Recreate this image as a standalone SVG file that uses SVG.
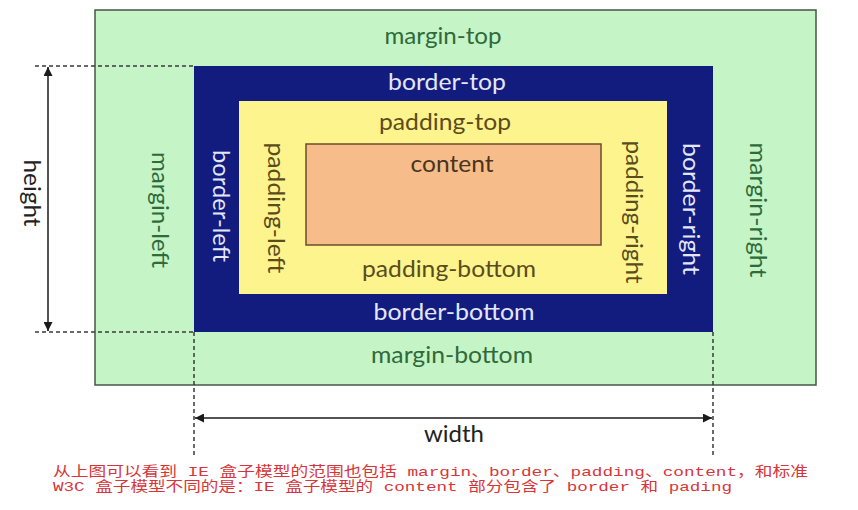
<svg xmlns="http://www.w3.org/2000/svg" width="858" height="510" viewBox="0 0 858 510">
<defs>
<marker id="arr" viewBox="0 0 10 10" refX="10" refY="5" markerWidth="9" markerHeight="9" markerUnits="userSpaceOnUse" orient="auto-start-reverse">
<path d="M0,0 L10,5 L0,10 z" fill="#1a1a1a"/>
</marker>
<style>
.lbl{font-family:Lato,"Open Sans","Liberation Sans",sans-serif;font-size:24px;text-anchor:middle}
.m{fill:#2f6a3a}
.b{fill:#e4e6fb}
.p{fill:#5b4c1c}
.c{fill:#4a3420}
.dash{stroke:#3a3a3a;stroke-width:1.5;stroke-dasharray:4 3;fill:none}
.dim{stroke:#1a1a1a;stroke-width:1.5;fill:none}
.note{font-family:"Liberation Mono","Noto Sans CJK SC",monospace;font-size:13.5px;fill:#d8353a}
</style>
</defs>
<rect width="858" height="510" fill="#ffffff"/>
<g id="margin">
<rect x="95" y="10" width="721" height="375" fill="#c5f4c6" stroke="#465646" stroke-width="1.5"/>
<text class="lbl m" x="443" y="44" textLength="117" lengthAdjust="spacingAndGlyphs">margin-top</text>
<text class="lbl m" x="452" y="363" textLength="162" lengthAdjust="spacingAndGlyphs">margin-bottom</text>
<text class="lbl m" transform="translate(159,210) rotate(90)" y="7" textLength="116" lengthAdjust="spacingAndGlyphs">margin-left</text>
<text class="lbl m" transform="translate(757,210) rotate(90)" y="7" textLength="135" lengthAdjust="spacingAndGlyphs">margin-right</text>
</g>
<g id="border">
<rect x="194" y="66" width="519" height="266" fill="#111c7e"/>
<text class="lbl b" x="447" y="90" textLength="118" lengthAdjust="spacingAndGlyphs">border-top</text>
<text class="lbl b" x="454" y="320" textLength="161" lengthAdjust="spacingAndGlyphs">border-bottom</text>
<text class="lbl b" transform="translate(220,206) rotate(90)" y="7" textLength="112" lengthAdjust="spacingAndGlyphs">border-left</text>
<text class="lbl b" transform="translate(690,209) rotate(90)" y="7" textLength="132" lengthAdjust="spacingAndGlyphs">border-right</text>
</g>
<g id="padding">
<rect x="239" y="101" width="428" height="193" fill="#fdf48e"/>
<text class="lbl p" x="445" y="130" textLength="132" lengthAdjust="spacingAndGlyphs">padding-top</text>
<text class="lbl p" x="449" y="277" textLength="174" lengthAdjust="spacingAndGlyphs">padding-bottom</text>
<text class="lbl p" transform="translate(275,208) rotate(90)" y="7" textLength="131" lengthAdjust="spacingAndGlyphs">padding-left</text>
<text class="lbl p" transform="translate(633,212) rotate(90)" y="7" textLength="143" lengthAdjust="spacingAndGlyphs">padding-right</text>
</g>
<g id="content">
<rect x="306" y="144" width="295" height="101" fill="#f6bd8b" stroke="#6b4c2c" stroke-width="1.5"/>
<text class="lbl c" x="452" y="172" textLength="83" lengthAdjust="spacingAndGlyphs">content</text>
</g>
<g id="connectors">
<line class="dash" x1="35" y1="66" x2="194" y2="66"/>
<line class="dash" x1="35" y1="332" x2="194" y2="332"/>
<line class="dash" x1="194" y1="332" x2="194" y2="457"/>
<line class="dash" x1="713" y1="332" x2="713" y2="457"/>
<line class="dim" x1="48" y1="67" x2="48" y2="331" marker-start="url(#arr)" marker-end="url(#arr)"/>
<line class="dim" x1="195" y1="418" x2="712" y2="418" marker-start="url(#arr)" marker-end="url(#arr)"/>
</g>
<g id="dimension-labels">
<text class="lbl" fill="#222" transform="translate(31,193) rotate(90)" y="7" textLength="67" lengthAdjust="spacingAndGlyphs">height</text>
<text class="lbl" fill="#222" x="454" y="442" textLength="60" lengthAdjust="spacingAndGlyphs">width</text>
</g>
<g id="note">
<text class="note" x="53" y="476" textLength="755" lengthAdjust="spacingAndGlyphs">从上图可以看到 IE 盒子模型的范围也包括 margin、border、padding、content，和标准</text>
<text class="note" x="53" y="491" textLength="679" lengthAdjust="spacingAndGlyphs">W3C 盒子模型不同的是：IE 盒子模型的 content 部分包含了 border 和 pading</text>
</g>
</svg>
